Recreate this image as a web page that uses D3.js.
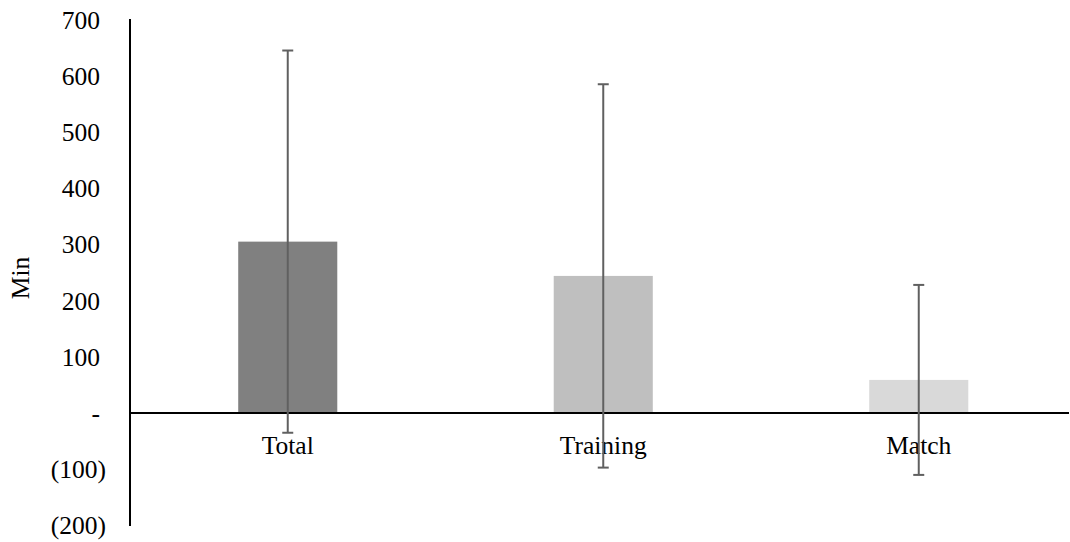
<!DOCTYPE html>
<html>
<head>
<meta charset="utf-8">
<script src="https://cdn.jsdelivr.net/npm/d3@7"></script>
<style>
  html, body { margin: 0; padding: 0; background: #fff; }
  svg { display: block; }
  text { font-family: "Liberation Serif", "Times New Roman", serif; fill: #000; }
</style>
</head>
<body>
<svg id="chart" width="1070" height="542"></svg>
<script>
const categories = ["Total", "Training", "Match"];
const means = [305, 244, 59];
const sds = [340, 341, 169];
const barColors = ["#808080", "#bfbfbf", "#d9d9d9"];
const tickValues = [-200, -100, 0, 100, 200, 300, 400, 500, 600, 700];
const tickLabels = ["(200)", "(100)", "-", "100", "200", "300", "400", "500", "600", "700"];
const yTitle = "Min";

const W = 1070, H = 542;
const svg = d3.select("#chart");

const y = d3.scaleLinear().domain([-200, 700]).range([525.5, 19.6]);
const x = d3.scaleBand().domain(categories).range([130, 1076.5])
  .paddingInner(0.686).paddingOuter(0.343);

const fs = 25.5;

// bars
svg.append("g").selectAll("rect").data(categories).join("rect")
  .attr("x", d => x(d))
  .attr("width", x.bandwidth())
  .attr("y", (d, i) => y(Math.max(0, means[i])))
  .attr("height", (d, i) => Math.abs(y(means[i]) - y(0)))
  .attr("fill", (d, i) => barColors[i]);

// y axis line (no ticks)
svg.append("line")
  .attr("x1", 130).attr("x2", 130)
  .attr("y1", y(700) - 0.5).attr("y2", y(-200) + 0.5)
  .attr("stroke", "#000").attr("stroke-width", 2);

// zero line
svg.append("line")
  .attr("x1", 130).attr("x2", 1069)
  .attr("y1", y(0)).attr("y2", y(0))
  .attr("stroke", "#000").attr("stroke-width", 2);

// category labels
svg.append("g").selectAll("text").data(categories).join("text")
  .attr("x", d => x(d) + x.bandwidth() / 2)
  .attr("y", y(0) + 40.5)
  .attr("text-anchor", "middle")
  .attr("font-size", fs)
  .text(d => d);

// error bars
const eg = svg.append("g").attr("stroke", "#606060").attr("stroke-width", 2);
categories.forEach((c, i) => {
  const cx = x(c) + x.bandwidth() / 2;
  const top = y(means[i] + sds[i]);
  const bot = y(means[i] - sds[i]);
  eg.append("line").attr("x1", cx).attr("x2", cx).attr("y1", top).attr("y2", bot);
  eg.append("line").attr("x1", cx - 5.5).attr("x2", cx + 5.5).attr("y1", top).attr("y2", top);
  eg.append("line").attr("x1", cx - 5.5).attr("x2", cx + 5.5).attr("y1", bot).attr("y2", bot);
});

// y tick labels
svg.append("g").selectAll("text").data(tickValues).join("text")
  .attr("x", d => d < 0 ? 106 : 100)
  .attr("y", d => y(d))
  .attr("dy", "0.35em")
  .attr("text-anchor", "end")
  .attr("font-size", fs)
  .text((d, i) => tickLabels[i]);

// y title
svg.append("text")
  .attr("transform", "translate(29,278) rotate(-90)")
  .attr("text-anchor", "middle")
  .attr("font-size", fs)
  .text(yTitle);
</script>
</body>
</html>
